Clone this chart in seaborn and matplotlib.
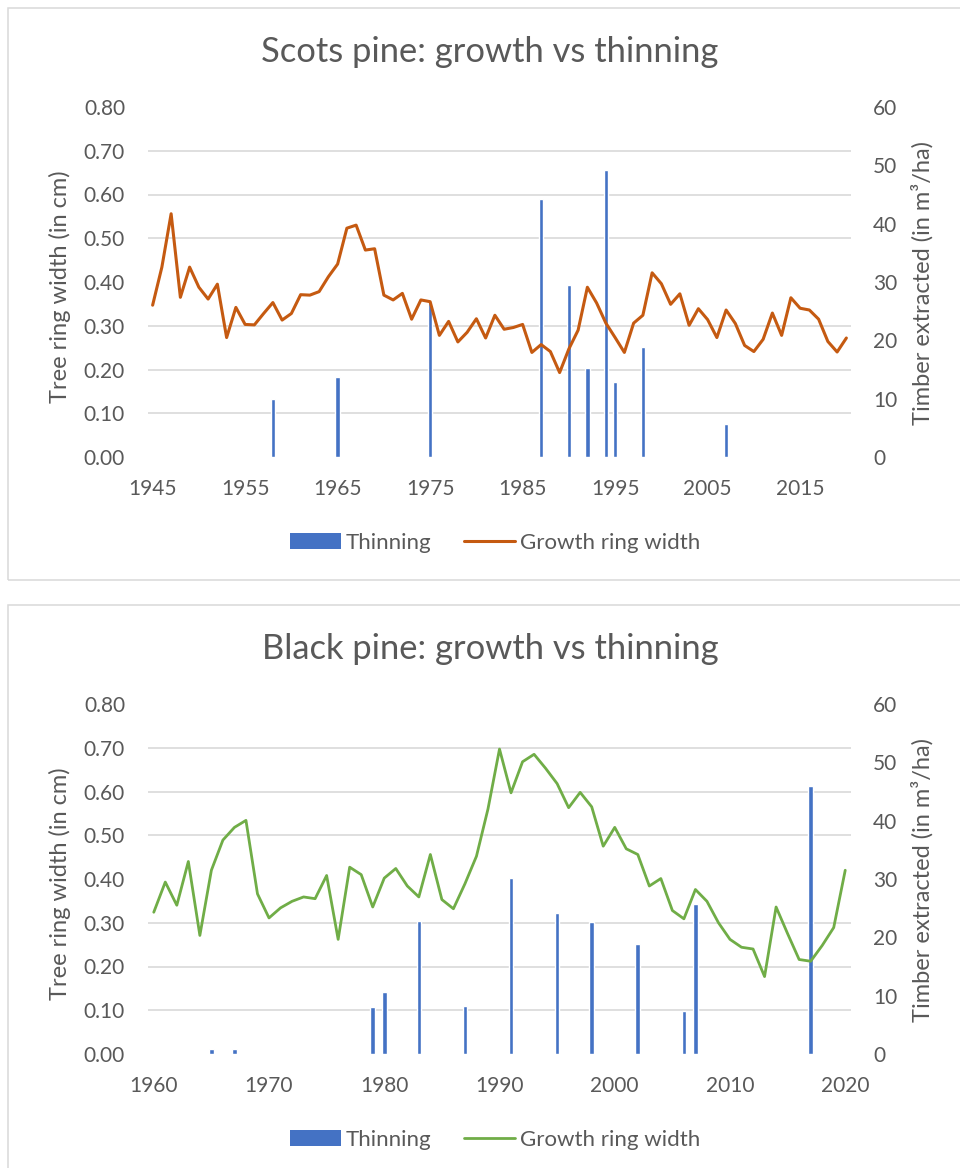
import numpy as np
import matplotlib
matplotlib.use("Agg")
import matplotlib.pyplot as plt
import seaborn as sns
from matplotlib.ticker import MultipleLocator, FormatStrFormatter, FixedLocator
from matplotlib.patches import Rectangle, Patch
from matplotlib.lines import Line2D

# ---- Scots pine -------------------------------------------------------------
scots_years = list(range(1945, 2021))
scots_growth = [
    0.347, 0.434, 0.556, 0.365, 0.434, 0.388, 0.361, 0.395, 0.273, 0.342,
    0.303, 0.302, 0.328, 0.353, 0.313, 0.328, 0.371, 0.370, 0.378, 0.412,
    0.441, 0.523, 0.530, 0.473, 0.476, 0.370, 0.359, 0.374, 0.315, 0.359,
    0.355, 0.278, 0.310, 0.263, 0.285, 0.316, 0.272, 0.324, 0.292, 0.296,
    0.303, 0.239, 0.257, 0.241, 0.193, 0.247, 0.290, 0.388, 0.352, 0.306,
    0.273, 0.239, 0.306, 0.324, 0.421, 0.396, 0.349, 0.373, 0.301, 0.339,
    0.314, 0.273, 0.336, 0.305, 0.255, 0.241, 0.269, 0.329, 0.278, 0.364,
    0.340, 0.336, 0.315, 0.264, 0.240, 0.272,
]
scots_thin_years = [1958, 1965, 1975, 1987, 1990, 1992, 1994, 1995, 1998, 2007]
scots_thin_vals = [9.9, 13.7, 26.6, 44.2, 29.5, 15.3, 49.2, 12.8, 18.9, 5.6]
scots_xticks = [1945, 1955, 1965, 1975, 1985, 1995, 2005, 2015]

# ---- Black pine -------------------------------------------------------------
black_years = list(range(1960, 2021))
black_growth = [
    0.324, 0.393, 0.340, 0.440, 0.271, 0.420, 0.489, 0.518, 0.534, 0.366,
    0.311, 0.334, 0.349, 0.359, 0.355, 0.408, 0.262, 0.427, 0.410, 0.336,
    0.402, 0.424, 0.384, 0.359, 0.456, 0.353, 0.332, 0.389, 0.452, 0.560,
    0.697, 0.597, 0.668, 0.685, 0.653, 0.618, 0.563, 0.598, 0.565, 0.475,
    0.518, 0.469, 0.456, 0.384, 0.401, 0.328, 0.309, 0.376, 0.349, 0.300,
    0.262, 0.244, 0.240, 0.177, 0.336, 0.275, 0.216, 0.212, 0.248, 0.289,
    0.420,
]
black_thin_years = [1965, 1967, 1979, 1980, 1983, 1987, 1991, 1995, 1998,
                    2002, 2006, 2007, 2017]
black_thin_vals = [0.9, 0.9, 8.1, 10.6, 22.8, 8.2, 30.1, 24.1, 22.7,
                   18.9, 7.3, 25.8, 45.9]
black_xticks = [1960, 1970, 1980, 1990, 2000, 2010, 2020]

legend_labels = ["Thinning", "Growth ring width"]

# ---- styling ----------------------------------------------------------------
sns.set_style("white")
plt.rcParams["font.family"] = ["Lato", "DejaVu Sans"]

TEXT = "#595959"
GRID = "#D9D9D9"
BLUE = "#4472C4"
ORANGE = "#C55A11"
GREEN = "#70AD47"

W, H = 960, 1168
fig = plt.figure(figsize=(W / 100, H / 100), dpi=100)


def fx(px):
    return px / W


def fy(py):
    return 1 - py / H


def panel(dy, title, years, growth, thin_years, thin_vals, color, lw,
          xticks, bar_w):
    # chart frame
    fig.add_artist(Rectangle((fx(8), fy(580 + dy)), fx(980), 572 / H,
                             transform=fig.transFigure, fill=False,
                             edgecolor=GRID, linewidth=1.1))

    ax = fig.add_axes([fx(148), fy(457 + dy), fx(703), 350 / H])
    ax2 = ax.twinx()

    sns.barplot(x=thin_years, y=thin_vals, native_scale=True, width=bar_w,
                color=BLUE, saturation=1, errorbar=None, ax=ax2)
    sns.lineplot(x=years, y=growth, color=color, linewidth=lw, ax=ax)

    ax.set_zorder(ax2.get_zorder() + 1)
    ax.patch.set_visible(False)

    ax.set_xlim(years[0] - 0.5, years[-1] + 0.5)
    ax.set_ylim(0, 0.8)
    ax2.set_ylim(0, 60)

    ax.set_xticks(xticks)
    ax.yaxis.set_major_locator(MultipleLocator(0.1))
    ax.yaxis.set_major_formatter(FormatStrFormatter("%.2f"))
    ax2.yaxis.set_major_locator(MultipleLocator(10))

    # horizontal gridlines follow the left scale, drawn beneath the bars
    left_ticks = np.arange(0, 0.801, 0.1)
    ax2.yaxis.set_minor_locator(FixedLocator(left_ticks * 60 / 0.8))
    ax2.grid(which="minor", axis="y", color=GRID, linewidth=1.2)
    ax2.grid(which="major", visible=False)
    ax.grid(False)
    ax2.set_axisbelow(True)

    ax.tick_params(axis="x", length=0, pad=16, labelsize=15, labelcolor=TEXT)
    ax.tick_params(axis="y", length=0, pad=16.5, labelsize=15, labelcolor=TEXT)
    ax2.tick_params(axis="y", which="both", length=0, pad=16, labelsize=15,
                    labelcolor=TEXT)

    for a in (ax, ax2):
        for s in a.spines.values():
            s.set_visible(False)
    ax.set_xlabel("")
    ax.set_ylabel("")
    ax2.set_ylabel("")

    fig.text(fx(490), fy(52 + dy), title, ha="center", va="center",
             fontsize=24.8, color=TEXT)
    fig.text(fx(60), fy(287 + dy), "Tree ring width (in cm)", rotation=90,
             ha="center", va="center", fontsize=17, color=TEXT)
    fig.text(fx(922), fy(283 + dy), "Timber extracted (in m³/ha)",
             rotation=90, ha="center", va="center", fontsize=17, color=TEXT)

    handles = [Patch(facecolor=BLUE, edgecolor="none"),
               Line2D([], [], color=color, linewidth=lw)]
    fig.legend(handles, legend_labels, loc="center",
               bbox_to_anchor=(fx(495), fy(543 + dy)), ncol=2, frameon=False,
               fontsize=16, labelcolor=TEXT, handlelength=2.3,
               handletextpad=0.2, columnspacing=1.5)


panel(0, "Scots pine: growth vs thinning", scots_years, scots_growth,
      scots_thin_years, scots_thin_vals, ORANGE, 2.2, scots_xticks, 0.46)
panel(597, "Black pine: growth vs thinning", black_years, black_growth,
      black_thin_years, black_thin_vals, GREEN, 2.0, black_xticks, 0.4)

fig.savefig("out.png", dpi=100, facecolor="white")
